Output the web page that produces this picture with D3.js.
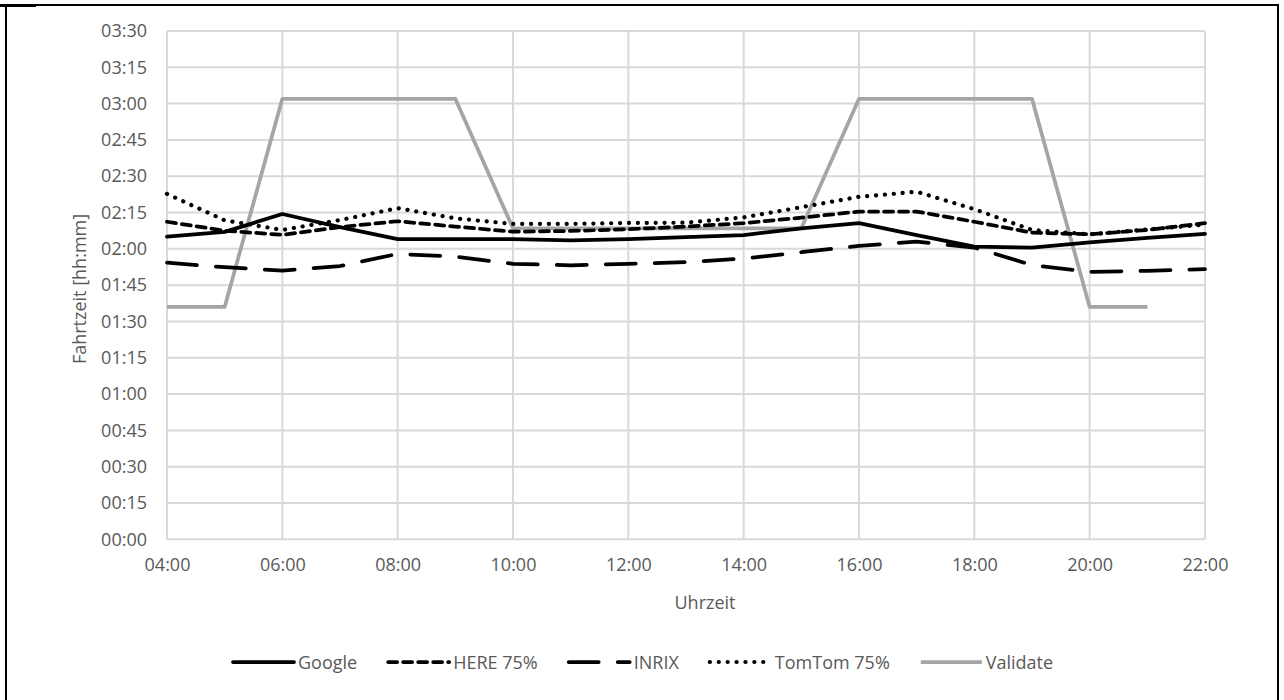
<!DOCTYPE html>
<html><head><meta charset="utf-8">
<script src="https://cdn.jsdelivr.net/npm/d3@7"></script>
<style>
body{margin:0;background:#fff;}
text{font-family:"Open Sans",sans-serif;fill:#595959;}
</style>
</head><body>
<svg id="c" width="1284" height="700"></svg>
<script>
// ---- data (minutes of travel time per hour of day) ----
const hours = [4,5,6,7,8,9,10,11,12,13,14,15,16,17,18,19,20,21,22];
const seriesNames = ["Google","HERE 75%","INRIX","TomTom 75%","Validate"];
const google   = [125,127,134.4,129,124,124,124,123.5,124,124.8,125.7,128.5,130.6,125.7,120.9,120.5,122.7,124.5,126.2];
const here75   = [131.2,127.5,125.8,129,131.4,129.2,127.1,127.4,128.1,129.2,130.6,132.9,135.4,135.4,131.2,126.7,126,127.8,130.6];
const inrix    = [114.3,112.4,111,112.9,117.9,116.8,113.8,113.2,113.8,114.5,116,118.6,121.2,123,120.5,113.3,110.5,110.9,111.6];
const tomtom75 = [142.7,131.8,127.8,131.9,136.8,132.6,130.3,130.3,130.7,130.8,133,137.2,141.5,143.6,136.4,127.8,126,128,130];
const validate = [96,96,182,182,182,182,128.5,128.5,128.5,128.5,128.5,128.5,182,182,182,182,96,96,null];
const yTickValues = [0,15,30,45,60,75,90,105,120,135,150,165,180,195,210];
const xTickValues = [4,6,8,10,12,14,16,18,20,22];
const xTitle = "Uhrzeit";
const yTitle = "Fahrtzeit [hh:mm]";

const seriesValues = [google, here75, inrix, tomtom75, validate];
const styles = [
  {color:"#000", width:3.75, dash:null, cap:"round"},
  {color:"#000", width:3.75, dash:"9,6", cap:"round"},
  {color:"#000", width:3.75, dash:"30,19", cap:"round"},
  {color:"#000", width:4.2, dash:"0.1,8.8", cap:"round"},
  {color:"#a5a5a5", width:3.75, dash:null, cap:"butt"}
];

const svg = d3.select("#c");
const pad2 = d => String(d).padStart(2,"0");
const fmtMin = m => pad2(Math.floor(m/60)) + ":" + pad2(Math.round(m%60));
const fmtHour = h => pad2(h) + ":00";

// frame
svg.append("rect").attr("x",6).attr("y",5).attr("width",1272).attr("height",720)
  .attr("fill","none").attr("stroke","#000").attr("stroke-width",2);
svg.append("line").attr("x1",0).attr("x2",36).attr("y1",5.5).attr("y2",5.5)
  .attr("stroke","#000").attr("stroke-width",3);

const x = d3.scaleLinear().domain([4,22]).range([167,1205]);
const y = d3.scaleLinear().domain([0,210]).range([539.3,31]);

// gridlines
const grid = svg.append("g");
grid.selectAll("line.h").data(yTickValues).join("line")
  .attr("x1",x(4)).attr("x2",x(22)).attr("y1",d=>y(d)).attr("y2",d=>y(d))
  .attr("stroke","#d9d9d9").attr("stroke-width",2);
grid.selectAll("line.v").data(xTickValues).join("line")
  .attr("y1",y(0)).attr("y2",y(210)).attr("x1",d=>x(d)).attr("x2",d=>x(d))
  .attr("stroke","#d9d9d9").attr("stroke-width",2);

// axes (labels only)
const yAxis = svg.append("g").attr("transform",`translate(${x(4)-17},0)`)
  .call(d3.axisLeft(y).tickValues(yTickValues).tickFormat(fmtMin).tickSize(0));
const xAxis = svg.append("g").attr("transform",`translate(0,${y(0)+16})`)
  .call(d3.axisBottom(x).tickValues(xTickValues).tickFormat(fmtHour).tickSize(0));
[yAxis,xAxis].forEach(a=>{
  a.select(".domain").remove();
  a.selectAll("text").attr("font-size",18).attr("fill","#595959")
   .style("font-family","'Open Sans',sans-serif");
});

// titles
svg.append("text").attr("x",705).attr("y",609).attr("text-anchor","middle")
  .attr("font-size",18).text(xTitle);
svg.append("text").attr("transform","translate(86,289) rotate(-90)")
  .attr("text-anchor","middle").attr("font-size",18).text(yTitle);

// lines
const line = d3.line().defined(d=>d[1]!=null).x(d=>x(d[0])).y(d=>y(d[1]));
const order = [4,3,2,1,0];
order.forEach(i=>{
  const s = styles[i];
  svg.append("path").datum(hours.map((h,k)=>[h,seriesValues[i][k]]))
    .attr("d",line).attr("fill","none").attr("stroke",s.color)
    .attr("stroke-width",s.width).attr("stroke-linejoin","round")
    .attr("stroke-linecap",s.cap)
    .attr("stroke-dasharray",s.dash);
});

// legend
const leg = svg.append("g");
let lx = 233;
const ly = 662;
seriesNames.forEach((name,i)=>{
  const s = styles[i];
  leg.append("line").attr("x1",lx).attr("x2",lx+61).attr("y1",ly).attr("y2",ly)
    .attr("stroke",s.color).attr("stroke-width",s.width)
    .attr("stroke-linecap",s.cap).attr("stroke-dasharray",s.dash);
  const t = leg.append("text").attr("x",lx+65).attr("y",ly+6.5)
    .attr("font-size",18).text(name);
  lx += 65 + t.node().getComputedTextLength() + 31;
});
</script>
</body></html>
